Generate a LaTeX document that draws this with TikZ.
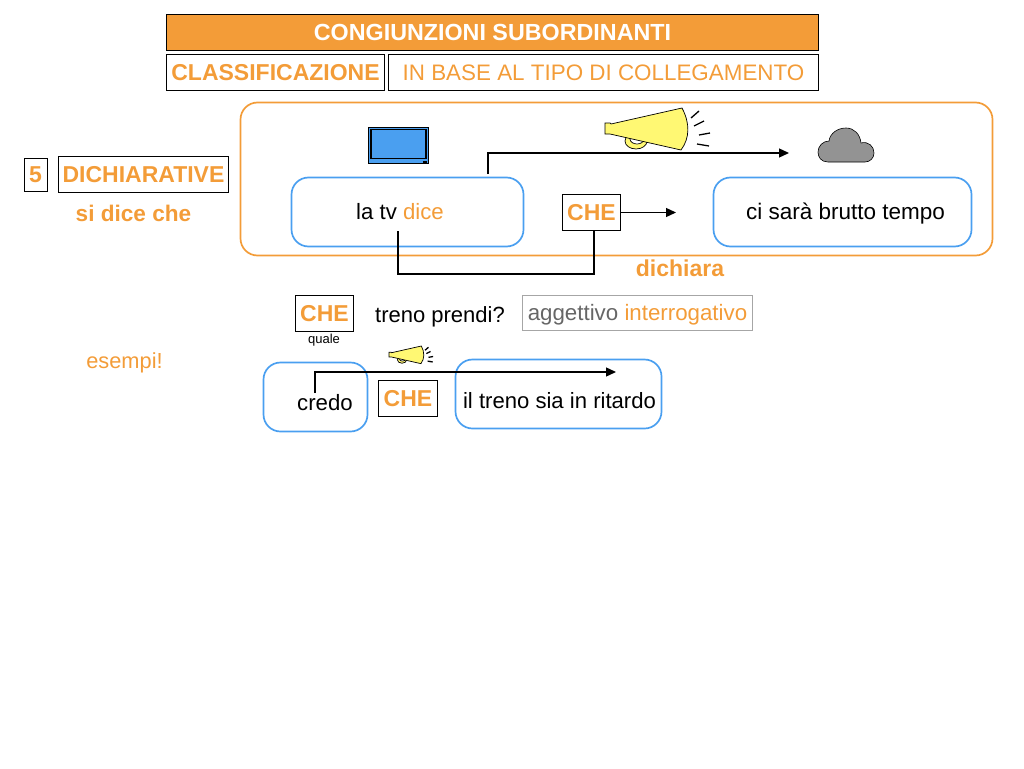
\documentclass[tikz,border=0pt]{standalone}
\usepackage{fontspec}
\setmainfont{Liberation Sans}
\usetikzlibrary{arrows.meta}
\definecolor{arancio}{HTML}{F39C38}
\definecolor{azzurro}{HTML}{4A9FF0}
\definecolor{grigio}{HTML}{666666}
\newcommand{\fs}[1]{\fontsize{#1}{#1}\selectfont}
\tikzset{
    boxed/.style={draw=black,line width=0.7pt,inner sep=0pt,outer sep=0pt,text=arancio},
    blubox/.style={draw=azzurro,line width=1.7pt,rounded corners=17pt,inner sep=0pt,outer sep=0pt},
    link/.style={draw=black,line width=1.3pt},
    arrowed/.style={link,-{Triangle[length=10pt,width=9pt]}},
    megaphone/.pic={
        \filldraw[fill=yellow!55,draw=black,line width=0.7pt] (31,33) circle[x radius=11,y radius=8];
        \filldraw[fill=white,draw=black,line width=0.7pt] (32,31) circle[x radius=7,y radius=5];
        \filldraw[fill=yellow!55,draw=black,line width=0.7pt] (0,15) -- (0,26) -- (5,26) -- (76,42)
            .. controls (85,30) and (85,15) .. (77,0) -- (6,16) -- (5,15) -- cycle;
        \foreach \a/\b/\c/\d in {86/10/94/3, 89/18/99/13, 94/27/105/25, 92/36/104/38}
            \draw[black,line width=1.3pt] (\a,\b) -- (\c,\d);
    },
}
\begin{document}
\begin{tikzpicture}[x=1pt,y=-1pt]
    \useasboundingbox (0,0) rectangle (1024,768);
    % intestazione
    \node[boxed,fill=arancio,text=white,minimum width=652pt,minimum height=36pt,font=\fs{23.3}\bfseries] (titolo) at (492.5,32) {CONGIUNZIONI SUBORDINANTI};
    \node[boxed,minimum width=218pt,minimum height=36pt,font=\fs{23}\bfseries] (classif) at (275.5,72.5) {CLASSIFICAZIONE};
    \node[boxed,minimum width=430pt,minimum height=36pt,font=\fs{22.4}] (tipo) at (603.5,72.5) {IN BASE AL TIPO DI COLLEGAMENTO};
    % colonna sinistra
    \node[boxed,minimum width=23pt,minimum height=33pt,font=\fs{23}\bfseries] (numero) at (35.5,175) {5};
    \node[boxed,minimum width=170pt,minimum height=36pt,font=\fs{23}\bfseries] (dichiarative) at (143.5,174.5) {DICHIARATIVE};
    \node[text=arancio,font=\fs{22.6}\bfseries] (sidice) at (133.5,213) {si dice che};
    \node[text=arancio,font=\fs{21.8}] (esempi) at (124.5,362.5) {esempi!};
    % primo esempio
    \node[draw=arancio,line width=1.7pt,rounded corners=17pt,minimum width=752pt,minimum height=153pt,inner sep=0pt] (cornice) at (616.5,179) {};
    \node[blubox,minimum width=232pt,minimum height=69pt] (latv) at (407.5,212) {};
    \node[font=\fs{22.2}] (latvtesto) at (400,212) {la tv \textcolor{arancio}{dice}};
    \node[boxed,minimum width=58pt,minimum height=36pt,font=\fs{23}\bfseries] (che) at (591.5,212.5) {CHE};
    \node[blubox,minimum width=258pt,minimum height=69pt] (tempo) at (842.5,212) {};
    \node[font=\fs{22.5}] (tempotesto) at (845.5,213.5) {ci sarà brutto tempo};
    \node[text=arancio,font=\fs{23}\bfseries] (dichiara) at (680,268) {dichiara};
    % televisore
    \node[draw=black,fill=azzurro,line width=0.7pt,minimum width=60pt,minimum height=36pt,inner sep=0pt] (tv) at (398.5,145.5) {};
    \node[draw=black,line width=1.5pt,minimum width=55pt,minimum height=29pt,inner sep=0pt] (schermo) at (398.5,144) {};
    \node[fill=black,minimum width=4.5pt,minimum height=2pt,inner sep=0pt] (spia) at (425,162) {};
    % nuvola
    \filldraw[fill=gray!85,draw=black,line width=0.6pt] (828,162) .. controls (821,162) and (818,157) .. (818,152)
        .. controls (818,146) and (823,141) .. (829,141) .. controls (830,133) and (838,128) .. (846,128)
        .. controls (854,128) and (860,134) .. (861,143) .. controls (868,141) and (874,146) .. (874,153)
        .. controls (874,158) and (870,162) .. (865,162) -- cycle;
    \pic at (605,108) {megaphone};
    \coordinate (parla) at (488,174);
    \coordinate (nuvola) at (789,153);
    \coordinate (tvpiede) at (398,231);
    \coordinate (chepiede) at (594,231);
    \coordinate (chefine) at (676,212.5);
    \draw[arrowed] (parla) |- (nuvola);
    \draw[link] (tvpiede) |- (594,274) -- (chepiede);
    \draw[arrowed] (che.east) -- (chefine);
    % secondo esempio
    \node[boxed,minimum width=58pt,minimum height=36pt,font=\fs{23}\bfseries] (che2) at (324.5,313.5) {CHE};
    \node[font=\fs{13}] (quale) at (324,340.5) {quale};
    \node[font=\fs{22}] (treno) at (440,316.5) {treno prendi?};
    \node[draw=gray!70,line width=0.7pt,minimum width=230pt,minimum height=35pt,inner sep=0pt,text=grigio,text height=16pt,text depth=2pt,font=\fs{22.3}] (aggettivo) at (637.5,313) {aggettivo \textcolor{arancio}{interrogativo}};
    % terzo esempio
    \node[blubox,minimum width=104pt,minimum height=69pt] (boxcredo) at (315.5,397) {};
    \node[font=\fs{22.2}] (credo) at (325,403) {credo};
    \node[boxed,minimum width=59pt,minimum height=36pt,font=\fs{23}\bfseries] (che3) at (408,398.5) {CHE};
    \node[blubox,minimum width=206pt,minimum height=69pt] (ritardo) at (558.5,394) {};
    \node[font=\fs{22.1}] (ilreno) at (559.5,401) {il treno sia in ritardo};
    \pic[scale=0.42,transform shape] at (389,346) {megaphone};
    \coordinate (credopiede) at (315,393);
    \coordinate (ritardofine) at (616,372);
    \draw[arrowed] (credopiede) |- (ritardofine);
\end{tikzpicture}
\end{document}
